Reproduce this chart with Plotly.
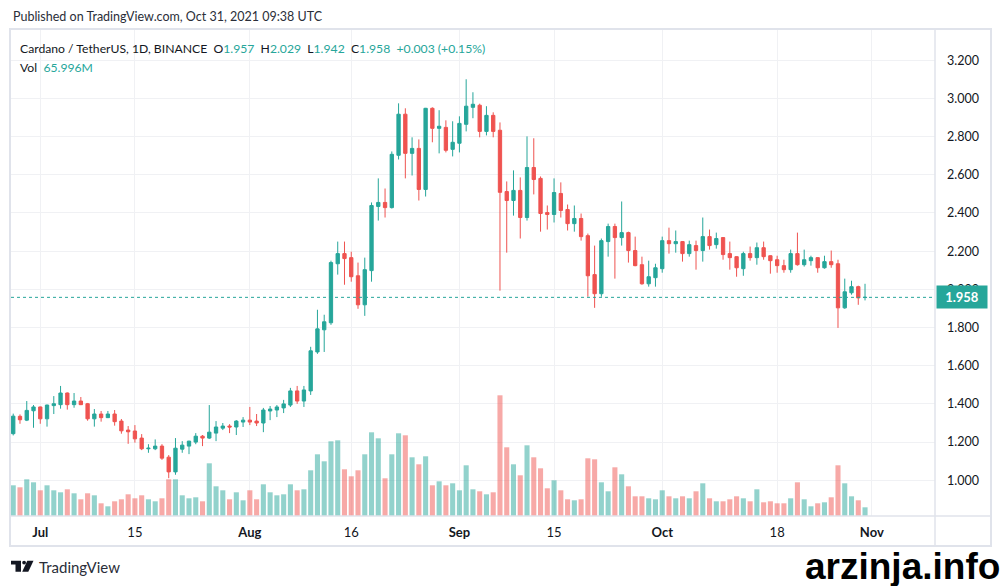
import pandas as pd
import plotly.graph_objects as go

# ---------------- data ----------------
dates = pd.date_range("2021-06-27", "2021-10-31", freq="D")

open_ = [1.244, 1.335, 1.315, 1.364, 1.384, 1.322, 1.391, 1.396, 1.457, 1.396,
         1.415, 1.401, 1.322, 1.347, 1.328, 1.347, 1.310, 1.263, 1.258, 1.221,
         1.165, 1.165, 1.179, 1.121, 1.044, 1.163, 1.179, 1.200, 1.231, 1.221,
         1.247, 1.273, 1.284, 1.279, 1.305, 1.315, 1.310, 1.300, 1.363, 1.368,
         1.379, 1.394, 1.468, 1.415, 1.468, 1.672, 1.788, 1.825, 2.134, 2.187,
         2.166, 2.071, 1.919, 2.098, 2.434, 2.455, 2.428, 2.702, 2.917, 2.712,
         2.738, 2.523, 2.948, 2.843, 2.848, 2.733, 2.765, 2.864, 2.953, 2.964,
         2.827, 2.911, 2.833, 2.512, 2.465, 2.518, 2.376, 2.638, 2.581, 2.402,
         2.392, 2.502, 2.418, 2.344, 2.371, 2.281, 2.077, 1.977, 2.250, 2.329,
         2.271, 2.297, 2.203, 2.129, 2.029, 2.061, 2.108, 2.255, 2.239, 2.250,
         2.187, 2.229, 2.203, 2.276, 2.234, 2.271, 2.187, 2.171, 2.108, 2.187,
         2.166, 2.218, 2.176, 2.155, 2.124, 2.103, 2.187, 2.129, 2.150, 2.166,
         2.113, 2.145, 2.134, 1.903, 1.982, 2.014, 1.957]

high = [1.349, 1.345, 1.415, 1.394, 1.386, 1.396, 1.441, 1.494, 1.460, 1.457,
        1.436, 1.405, 1.373, 1.363, 1.363, 1.368, 1.321, 1.284, 1.289, 1.242,
        1.189, 1.214, 1.189, 1.132, 1.221, 1.205, 1.207, 1.247, 1.237, 1.394,
        1.310, 1.300, 1.294, 1.315, 1.331, 1.384, 1.347, 1.379, 1.389, 1.394,
        1.421, 1.484, 1.494, 1.494, 1.699, 1.893, 1.867, 2.150, 2.250, 2.250,
        2.197, 2.140, 2.166, 2.455, 2.581, 2.528, 2.722, 2.974, 2.948, 2.796,
        2.785, 2.950, 2.953, 2.938, 2.885, 2.880, 2.906, 3.100, 3.032, 2.972,
        2.959, 2.927, 2.874, 2.565, 2.623, 2.586, 2.801, 2.791, 2.591, 2.439,
        2.581, 2.560, 2.444, 2.439, 2.397, 2.292, 2.229, 2.266, 2.344, 2.344,
        2.460, 2.302, 2.276, 2.171, 2.150, 2.134, 2.276, 2.323, 2.308, 2.252,
        2.255, 2.255, 2.376, 2.313, 2.297, 2.273, 2.250, 2.173, 2.197, 2.224,
        2.245, 2.250, 2.178, 2.176, 2.155, 2.208, 2.297, 2.208, 2.176, 2.168,
        2.176, 2.203, 2.155, 2.056, 2.045, 2.019, 2.029]

low = [1.235, 1.296, 1.310, 1.275, 1.296, 1.281, 1.347, 1.375, 1.370, 1.380,
       1.394, 1.312, 1.281, 1.307, 1.326, 1.286, 1.244, 1.191, 1.197, 1.158,
       1.144, 1.158, 1.107, 1.011, 1.029, 1.144, 1.137, 1.189, 1.179, 1.216,
       1.205, 1.263, 1.247, 1.237, 1.279, 1.289, 1.284, 1.252, 1.315, 1.331,
       1.352, 1.384, 1.400, 1.384, 1.447, 1.662, 1.672, 1.814, 2.077, 2.024,
       2.040, 1.898, 1.861, 2.040, 2.360, 2.376, 2.423, 2.680, 2.581, 2.596,
       2.465, 2.486, 2.770, 2.712, 2.717, 2.696, 2.717, 2.827, 2.896, 2.796,
       2.806, 2.796, 1.993, 2.192, 2.386, 2.266, 2.360, 2.497, 2.302, 2.313,
       2.350, 2.376, 2.308, 2.302, 2.255, 1.961, 1.903, 1.961, 2.171, 2.056,
       2.229, 2.140, 2.121, 2.024, 2.014, 2.014, 2.087, 2.187, 2.192, 2.145,
       2.171, 2.103, 2.145, 2.208, 2.213, 2.155, 2.103, 2.066, 2.071, 2.150,
       2.129, 2.155, 2.082, 2.087, 2.087, 2.087, 2.124, 2.119, 2.124, 2.087,
       2.108, 2.113, 1.798, 1.898, 1.972, 1.919, 1.942]

close = [1.336, 1.317, 1.366, 1.384, 1.322, 1.394, 1.401, 1.457, 1.396, 1.415,
         1.396, 1.322, 1.347, 1.328, 1.347, 1.307, 1.259, 1.254, 1.217, 1.165,
         1.168, 1.179, 1.116, 1.044, 1.168, 1.184, 1.205, 1.231, 1.221, 1.252,
         1.279, 1.284, 1.279, 1.310, 1.315, 1.305, 1.300, 1.368, 1.373, 1.384,
         1.400, 1.468, 1.415, 1.473, 1.678, 1.793, 1.830, 2.140, 2.187, 2.161,
         2.066, 1.919, 2.103, 2.439, 2.455, 2.428, 2.707, 2.917, 2.712, 2.738,
         2.523, 2.948, 2.843, 2.854, 2.728, 2.770, 2.869, 2.959, 2.969, 2.827,
         2.911, 2.827, 2.508, 2.465, 2.518, 2.376, 2.638, 2.575, 2.397, 2.392,
         2.507, 2.413, 2.344, 2.371, 2.276, 2.071, 1.977, 2.255, 2.329, 2.271,
         2.297, 2.203, 2.124, 2.029, 2.066, 2.113, 2.255, 2.239, 2.250, 2.187,
         2.234, 2.203, 2.276, 2.229, 2.266, 2.182, 2.166, 2.113, 2.187, 2.166,
         2.218, 2.171, 2.150, 2.124, 2.103, 2.187, 2.129, 2.155, 2.166, 2.113,
         2.145, 2.129, 1.903, 1.987, 2.014, 1.955, 1.958]

volume_m = [232.9, 217.7, 278.4, 255.6, 195.0, 232.9, 195.0, 179.8, 202.5, 172.2,
            126.7, 172.2, 157.0, 96.3, 73.6, 111.5, 126.7, 164.6, 134.3, 157.0,
            126.7, 111.5, 134.3, 278.4, 278.4, 157.0, 134.3, 141.9, 111.5, 399.8,
            225.3, 195.0, 126.7, 179.8, 119.1, 195.0, 126.7, 240.5, 179.8, 157.0,
            164.6, 240.5, 195.0, 202.5, 346.7, 468.1, 415.0, 566.7, 574.3, 354.3,
            301.2, 346.7, 468.1, 634.9, 589.4, 286.0, 468.1, 627.4, 612.2, 445.3,
            392.2, 452.9, 232.9, 263.2, 232.9, 248.1, 195.0, 384.6, 202.5, 187.4,
            164.6, 179.8, 915.6, 521.2, 392.2, 308.7, 536.3, 445.3, 361.9, 210.1,
            270.8, 195.0, 126.7, 119.1, 126.7, 437.7, 430.1, 255.6, 187.4, 369.4,
            316.3, 225.3, 149.4, 149.4, 134.3, 126.7, 195.0, 149.4, 134.3, 149.4,
            134.3, 187.4, 248.1, 134.3, 111.5, 111.5, 126.7, 149.4, 134.3, 111.5,
            202.5, 103.9, 111.5, 96.3, 96.3, 134.3, 255.6, 126.7, 73.6, 96.3,
            103.9, 141.9, 384.6, 248.1, 149.4, 119.1, 65.996]

x_tick_dates = ["2021-07-01", "2021-07-15", "2021-08-01", "2021-08-16", "2021-09-01",
                "2021-09-15", "2021-10-01", "2021-10-18", "2021-11-01"]
x_tick_text = ["<b>Jul</b>", "15", "<b>Aug</b>", "16", "<b>Sep</b>", "15",
               "<b>Oct</b>", "18", "<b>Nov</b>"]
price_ticks = [1.0, 1.2, 1.4, 1.6, 1.8, 2.0, 2.2, 2.4, 2.6, 2.8, 3.0, 3.2]

# ---------------- styling ----------------
UP = "#26a69a"
DOWN = "#ef5350"
UP_VOL = "rgba(38,166,154,0.5)"
DOWN_VOL = "rgba(239,83,80,0.5)"
GRID = "#f0f1f4"
FRAME = "#e0e3eb"
TXT = "#131722"
FONT = "Lato, 'Liberation Sans', sans-serif"

W, H = 1002, 586
L, R, T, B = 11, 935, 30, 516  # plot area in pixels


def px(x):
    return (x - L) / (R - L)


def py(y):
    return (B - y) / (B - T)


vol_colors = [UP_VOL if c >= o else DOWN_VOL for o, c in zip(open_, close)]

fig = go.Figure()
fig.add_trace(go.Bar(x=dates, y=volume_m, marker_color=vol_colors,
                     marker_line_width=0, yaxis="y", hoverinfo="skip"))
fig.add_trace(go.Candlestick(
    x=dates, open=open_, high=high, low=low, close=close, yaxis="y2",
    increasing=dict(line=dict(color=UP, width=1), fillcolor=UP),
    decreasing=dict(line=dict(color=DOWN, width=1), fillcolor=DOWN),
    whiskerwidth=0))

t0 = dates[0] - pd.Timedelta(days=0.33)
t1 = dates[0] + pd.Timedelta(days=136.35)

fig.update_layout(
    width=W, height=H,
    margin=dict(l=L, r=W - R, t=T, b=H - B, pad=0),
    paper_bgcolor="white", plot_bgcolor="white", showlegend=False,
    font=dict(family=FONT, color=TXT, size=12),
    bargap=0.25,
    xaxis=dict(type="date", range=[t0, t1],
               tickvals=pd.to_datetime(x_tick_dates), ticktext=x_tick_text,
               showgrid=True, gridcolor=GRID, gridwidth=1, zeroline=False,
               showline=False, ticks="", tickfont=dict(size=13, color=TXT),
               ticklabelstandoff=7, rangeslider=dict(visible=False)),
    yaxis=dict(range=[0, 3687], visible=False, showgrid=False, zeroline=False),
    yaxis2=dict(overlaying="y", side="right", range=[0.813, 3.358],
                tickvals=price_ticks, tickformat=".3f", showgrid=True,
                gridcolor=GRID, gridwidth=1, zeroline=False, showline=False,
                ticks="", tickfont=dict(size=12.5, color=TXT),
                ticklabelstandoff=11),
)

# last price line + label
fig.add_shape(type="line", xref="paper", yref="y2", x0=0, x1=1,
              y0=close[-1], y1=close[-1],
              line=dict(color=UP, width=1, dash="dot"))
fig.add_annotation(xref="paper", yref="y2", x=1.0, y=close[-1], xanchor="left",
                   yanchor="middle", xshift=1, text=f"<b>{close[-1]:.3f}</b>",
                   showarrow=False, bgcolor=UP, borderpad=3, width=44,
                   font=dict(color="white", size=13, family=FONT))

# frame
fig.add_shape(type="rect", xref="paper", yref="paper", x0=px(10), x1=px(991),
              y0=py(546), y1=py(29), line=dict(color=FRAME, width=2))
fig.add_shape(type="line", xref="paper", yref="paper", x0=1.0, x1=1.0,
              y0=py(546), y1=py(29), line=dict(color=FRAME, width=1.5))
fig.add_shape(type="line", xref="paper", yref="paper", x0=px(10), x1=px(991),
              y0=0, y1=0, line=dict(color=FRAME, width=1.5))

# header texts
fig.add_annotation(xref="paper", yref="paper", x=px(11), y=py(17),
                   xanchor="left", yanchor="middle", showarrow=False,
                   text="Published on TradingView.com, Oct 31, 2021 09:38 UTC",
                   font=dict(size=12.5, color="#2a2e39", family=FONT))

o, h, l_, c = open_[-1], high[-1], low[-1], close[-1]
chg = c - close[-2]
pct = chg / close[-2] * 100
teal = lambda s: f"<span style='color:{UP}'>{s}</span>"
sp = "\u00a0\u00a0"
legend1 = ("Cardano / TetherUS, 1D, BINANCE" + sp + "O" + teal(f"{o:.3f}") + sp +
           "H" + teal(f"{h:.3f}") + sp + "L" + teal(f"{l_:.3f}") + sp +
           "C" + teal(f"{c:.3f}") + sp + teal(f"{chg:+.3f} ({pct:+.2f}%)"))
fig.add_annotation(xref="paper", yref="paper", x=px(18), y=py(48),
                   xanchor="left", yanchor="middle", showarrow=False,
                   text=legend1, font=dict(size=12.2, color=TXT, family=FONT))
fig.add_annotation(xref="paper", yref="paper", x=px(18), y=py(67),
                   xanchor="left", yanchor="middle", showarrow=False,
                   text="Vol" + sp + teal(f"{volume_m[-1]:.3f}M"),
                   font=dict(size=12.2, color=TXT, family=FONT))

# TradingView logo + text
logo_t = [(11, 560.7), (21, 560.7), (21, 571.7), (15.5, 571.7), (15.5, 564.6), (11, 564.6)]
logo_v = [(27.3, 560.7), (33.5, 560.7), (28.3, 571.7), (22.2, 571.7)]


def path(pts):
    return "M " + " L ".join(f"{px(a):.5f},{py(b):.5f}" for a, b in pts) + " Z"


fig.add_shape(type="path", xref="paper", yref="paper", path=path(logo_t),
              fillcolor=TXT, line=dict(width=0))
fig.add_shape(type="path", xref="paper", yref="paper", path=path(logo_v),
              fillcolor=TXT, line=dict(width=0))
fig.add_shape(type="circle", xref="paper", yref="paper", x0=px(22.2), x1=px(26),
              y0=py(564.5), y1=py(560.7), fillcolor=TXT, line=dict(width=0))
fig.add_annotation(xref="paper", yref="paper", x=px(36.5), y=py(566.5),
                   xanchor="left", yanchor="middle", showarrow=False,
                   text="TradingView", font=dict(size=15, color="#2a2e39", family=FONT))

# watermark
fig.add_annotation(xref="paper", yref="paper", x=px(1002), y=py(566),
                   xanchor="right", yanchor="middle", showarrow=False,
                   text="<b>arzinja.info</b>",
                   font=dict(size=37, color="black", family="'Liberation Sans', Arial, sans-serif"))

fig.write_html("out.html", config={"displayModeBar": False},
               post_script="document.body.style.margin='0px';")
